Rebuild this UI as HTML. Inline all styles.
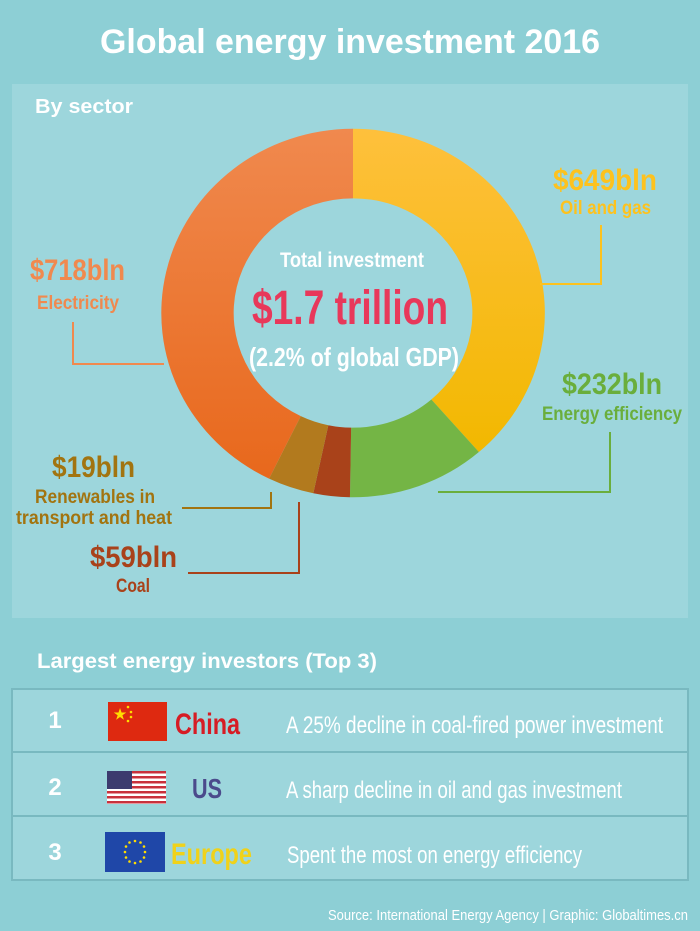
<!DOCTYPE html>
<html><head><meta charset="utf-8"><style>
html,body{margin:0;padding:0;background:#8dcfd5;}
svg{display:block}
text{font-family:"Liberation Sans",sans-serif;font-weight:bold}
</style></head><body>
<svg width="700" height="931" viewBox="0 0 700 931" xmlns="http://www.w3.org/2000/svg">
<defs>
<linearGradient id="go" x1="0" y1="0" x2="0" y2="1"><stop offset="0" stop-color="#fec03c"/><stop offset="1" stop-color="#f2b800"/></linearGradient>
<linearGradient id="ge" x1="0" y1="0" x2="0" y2="1"><stop offset="0" stop-color="#f0894e"/><stop offset="1" stop-color="#e8681c"/></linearGradient>
</defs>
<rect width="700" height="931" fill="#8dcfd5"/>
<text x="100" y="53" font-size="34" fill="#fff" textLength="500" lengthAdjust="spacingAndGlyphs">Global energy investment 2016</text>
<rect x="12" y="84" width="676" height="534" fill="#9dd6dc"/>
<text x="35" y="113" font-size="20" fill="#fff" textLength="98" lengthAdjust="spacingAndGlyphs">By sector</text>
<g transform="translate(353,313) scale(1.02,0.98)">
<path d="M0,-188 A188,188 0 0 1 123.4,141.9 L76.8,88.3 A117,117 0 0 0 0,-117 Z" fill="url(#go)"/>
<path d="M123.4,141.9 A188,188 0 0 1 -3,188 L-1.8,117 A117,117 0 0 0 76.8,88.3 Z" fill="#74b545"/>
<path d="M-3,188 A188,188 0 0 1 -38.9,183.9 L-24.2,114.5 A117,117 0 0 0 -1.8,117 Z" fill="#a9421a"/>
<path d="M-38.9,183.9 A188,188 0 0 1 -82.3,169 L-51.2,105.2 A117,117 0 0 0 -24.2,114.5 Z" fill="#b27a1e"/>
<path d="M-82.3,169 A188,188 0 0 1 0,-188 L0,-117 A117,117 0 0 0 -51.2,105.2 Z" fill="url(#ge)"/>
</g>
<text x="280" y="267" font-size="21" fill="#fff" textLength="144" lengthAdjust="spacingAndGlyphs">Total investment</text>
<text x="252" y="324" font-size="48" fill="#e8385a" textLength="196" lengthAdjust="spacingAndGlyphs">$1.7 trillion</text>
<text x="249" y="366" font-size="26" fill="#fff" textLength="210" lengthAdjust="spacingAndGlyphs">(2.2% of global GDP)</text>
<text x="553" y="190" font-size="30" fill="#fdc21e" textLength="104" lengthAdjust="spacingAndGlyphs">$649bln</text>
<text x="560" y="214" font-size="19" fill="#fdc21e" textLength="91" lengthAdjust="spacingAndGlyphs">Oil and gas</text>
<polyline points="601,225 601,284 540,284" fill="none" stroke="#fdc21e" stroke-width="2"/>
<text x="30" y="280" font-size="30" fill="#f0894e" textLength="95" lengthAdjust="spacingAndGlyphs">$718bln</text>
<text x="37" y="309" font-size="19" fill="#f0894e" textLength="82" lengthAdjust="spacingAndGlyphs">Electricity</text>
<polyline points="73,322 73,364 164,364" fill="none" stroke="#f0894e" stroke-width="2"/>
<text x="562" y="394" font-size="30" fill="#6aae3c" textLength="100" lengthAdjust="spacingAndGlyphs">$232bln</text>
<text x="542" y="420" font-size="19" fill="#6aae3c" textLength="140" lengthAdjust="spacingAndGlyphs">Energy efficiency</text>
<polyline points="610,432 610,492 438,492" fill="none" stroke="#6aae3c" stroke-width="2"/>
<text x="52" y="477" font-size="30" fill="#a27410" textLength="83" lengthAdjust="spacingAndGlyphs">$19bln</text>
<text x="35" y="503" font-size="19" fill="#a27410" textLength="120" lengthAdjust="spacingAndGlyphs">Renewables in</text>
<text x="16" y="524" font-size="19" fill="#a27410" textLength="156" lengthAdjust="spacingAndGlyphs">transport and heat</text>
<polyline points="182,508 271,508 271,492" fill="none" stroke="#a27410" stroke-width="2"/>
<text x="90" y="567" font-size="30" fill="#a9421a" textLength="87" lengthAdjust="spacingAndGlyphs">$59bln</text>
<text x="116" y="592" font-size="19" fill="#a9421a" textLength="34" lengthAdjust="spacingAndGlyphs">Coal</text>
<polyline points="188,573 299,573 299,502" fill="none" stroke="#a9421a" stroke-width="2"/>
<text x="37" y="668" font-size="21" fill="#fff" textLength="340" lengthAdjust="spacingAndGlyphs">Largest energy investors (Top 3)</text>
<rect x="12" y="689" width="676" height="191" fill="#9dd6dc" stroke="#79b9c0" stroke-width="2"/>
<line x1="12" y1="752" x2="688" y2="752" stroke="#79b9c0" stroke-width="2"/>
<line x1="12" y1="816" x2="688" y2="816" stroke="#79b9c0" stroke-width="2"/>
<g font-size="24" fill="#fff"><text x="55" y="728" text-anchor="middle">1</text><text x="55" y="795" text-anchor="middle">2</text><text x="55" y="860" text-anchor="middle">3</text></g>
<rect x="108" y="702" width="59" height="39" fill="#de2910"/>
<text x="120" y="719" font-size="14" fill="#ffde00" text-anchor="middle" font-family="DejaVu Sans">★</text>
<g fill="#ffde00"><circle cx="128" cy="707" r="1.3"/><circle cx="131" cy="712" r="1.3"/><circle cx="131" cy="717" r="1.3"/><circle cx="128" cy="721" r="1.3"/></g>
<text x="175" y="734" font-size="30" fill="#d61c24" textLength="65" lengthAdjust="spacingAndGlyphs">China</text>
<rect x="107" y="771" width="59" height="33" fill="#fff"/>
<g fill="#c8313c"><rect x="107" y="771" width="59" height="2.5"/><rect x="107" y="776" width="59" height="2.5"/><rect x="107" y="781" width="59" height="2.5"/><rect x="107" y="786" width="59" height="2.5"/><rect x="107" y="791" width="59" height="2.5"/><rect x="107" y="796" width="59" height="2.5"/><rect x="107" y="801" width="59" height="2.5"/></g>
<rect x="107" y="771" width="25" height="18" fill="#3c3b6e"/>
<text x="192" y="798" font-size="28" fill="#4b4b8c" textLength="30" lengthAdjust="spacingAndGlyphs">US</text>
<rect x="105" y="832" width="60" height="40" fill="#1f47a8"/>
<g fill="#ffdd00">
<circle cx="135" cy="841" r="1.3"/><circle cx="140.5" cy="842.5" r="1.3"/><circle cx="144" cy="846.5" r="1.3"/><circle cx="145" cy="852" r="1.3"/><circle cx="144" cy="857.5" r="1.3"/><circle cx="140.5" cy="861.5" r="1.3"/><circle cx="135" cy="863" r="1.3"/><circle cx="129.5" cy="861.5" r="1.3"/><circle cx="126" cy="857.5" r="1.3"/><circle cx="125" cy="852" r="1.3"/><circle cx="126" cy="846.5" r="1.3"/><circle cx="129.5" cy="842.5" r="1.3"/>
</g>
<text x="171" y="864" font-size="30" fill="#f0d21a" textLength="81" lengthAdjust="spacingAndGlyphs">Europe</text>
<g font-size="24" fill="#fff">
<text x="286" y="733" style="font-weight:normal" textLength="377" lengthAdjust="spacingAndGlyphs">A 25% decline in coal-fired power investment</text>
<text x="286" y="798" style="font-weight:normal" textLength="336" lengthAdjust="spacingAndGlyphs">A sharp decline in oil and gas investment</text>
<text x="287" y="863" style="font-weight:normal" textLength="295" lengthAdjust="spacingAndGlyphs">Spent the most on energy efficiency</text>
</g>
<text x="328" y="920" font-size="15" fill="#fff" style="font-weight:normal" textLength="360" lengthAdjust="spacingAndGlyphs">Source: International Energy Agency | Graphic: Globaltimes.cn</text>
</svg>
</body></html>
